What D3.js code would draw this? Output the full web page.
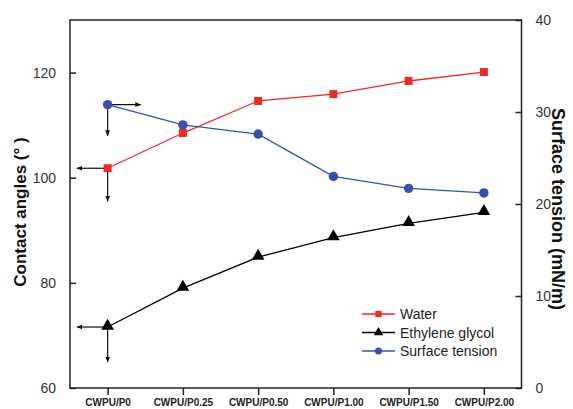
<!DOCTYPE html>
<html><head><meta charset="utf-8">
<script src="https://cdn.jsdelivr.net/npm/d3@7/dist/d3.min.js"></script>
<style>body{margin:0;background:#fff}svg{display:block}</style>
</head><body><svg id="c" width="573" height="409"></svg>
<script>
const categories = ["CWPU/P0","CWPU/P0.25","CWPU/P0.50","CWPU/P1.00","CWPU/P1.50","CWPU/P2.00"];
const water = [101.8, 108.5, 114.6, 115.9, 118.4, 120.1];
const ethyleneGlycol = [71.6, 79.0, 84.9, 88.6, 91.3, 93.4];
const surfaceTension = [30.8, 28.6, 27.6, 23.0, 21.7, 21.2];
const leftTicks = [60, 80, 100, 120];
const rightTicks = [0, 10, 20, 30, 40];

const svg = d3.select("#c");
const L = 70, R = 521.5, T = 20, B = 388;
const x = d3.scalePoint().domain(categories).range([L, R]).padding(0.5);
const yL = d3.scaleLinear().domain([60, 130]).range([B, T]);
const yR = d3.scaleLinear().domain([0, 40]).range([B, T]);

const red = "#ee2a24", blue = "#3b4fae", black = "#000";
const font = "Liberation Sans, Arial, sans-serif";

// frame
svg.append("rect").attr("x", L).attr("y", T).attr("width", R - L).attr("height", B - T)
  .attr("fill", "none").attr("stroke", "#222").attr("stroke-width", 1.5);

// left axis
const gl = svg.append("g").attr("transform", `translate(${L},0)`)
  .call(d3.axisLeft(yL).tickValues(leftTicks).tickSize(-6).tickPadding(14));
gl.select(".domain").remove();
gl.selectAll("line").attr("stroke", "#222").attr("stroke-width", 1.5);
gl.selectAll("text").attr("font-family", font).attr("font-size", 14).attr("fill", "#333");

// right axis
const gr = svg.append("g").attr("transform", `translate(${R},0)`)
  .call(d3.axisRight(yR).tickValues(rightTicks).tickSize(-6).tickPadding(14));
gr.select(".domain").remove();
gr.selectAll("line").attr("stroke", "#222").attr("stroke-width", 1.5);
gr.selectAll("text").attr("font-family", font).attr("font-size", 14).attr("fill", "#333");

// bottom axis
const gb = svg.append("g").attr("transform", `translate(0,${B})`)
  .call(d3.axisBottom(x).tickSize(7).tickPadding(4));
gb.select(".domain").remove();
gb.selectAll("line").attr("stroke", "#222").attr("stroke-width", 1.5);
gb.selectAll("text").attr("font-family", font).attr("font-size", 10).attr("font-weight", "bold").attr("fill", "#222");

// titles
svg.append("text").attr("transform", `translate(26,212) rotate(-90)`)
  .attr("text-anchor", "middle").attr("font-family", font).attr("font-size", 17).attr("font-weight", "bold")
  .attr("fill", "#111").text("Contact angles (° )");
svg.append("text").attr("transform", `translate(552,209) rotate(90)`)
  .attr("text-anchor", "middle").attr("font-family", font).attr("font-size", 18).attr("font-weight", "bold")
  .attr("fill", "#111").text("Surface tension (mN/m)");

// arrow marker
svg.append("defs").append("marker").attr("id", "arr").attr("viewBox", "0 0 10 10")
  .attr("refX", 9).attr("refY", 5).attr("markerWidth", 6).attr("markerHeight", 6)
  .attr("markerUnits", "userSpaceOnUse").attr("orient", "auto")
  .append("path").attr("d", "M0,1 L10,5 L0,9 Z").attr("fill", "#111");

const c0 = categories[0];
function arrow(x1, y1, x2, y2) {
  svg.append("line").attr("x1", x1).attr("y1", y1).attr("x2", x2).attr("y2", y2)
    .attr("stroke", "#111").attr("stroke-width", 1.2).attr("marker-end", "url(#arr)");
}
// surface tension -> right axis
arrow(x(c0), yR(surfaceTension[0]), x(c0) + 33, yR(surfaceTension[0]));
arrow(x(c0), yR(surfaceTension[0]), x(c0), yR(surfaceTension[0]) + 31);
// water -> left axis
arrow(x(c0), yL(water[0]), L + 7, yL(water[0]));
arrow(x(c0), yL(water[0]), x(c0), yL(water[0]) + 33);
// ethylene glycol -> left axis
arrow(x(c0), yL(ethyleneGlycol[0]), L + 7, yL(ethyleneGlycol[0]));
arrow(x(c0), yL(ethyleneGlycol[0]), x(c0), yL(ethyleneGlycol[0]) + 35);

const line = (ys, yS) => d3.line().x((d, i) => x(categories[i])).y(d => yS(d))(ys);

svg.append("path").attr("d", line(water, yL)).attr("fill", "none").attr("stroke", red).attr("stroke-width", 1.3);
svg.append("path").attr("d", line(ethyleneGlycol, yL)).attr("fill", "none").attr("stroke", black).attr("stroke-width", 1.3);
svg.append("path").attr("d", line(surfaceTension, yR)).attr("fill", "none").attr("stroke", blue).attr("stroke-width", 1.3);

const sq = d3.symbol().type(d3.symbolSquare).size(64);
const tri = d3.symbol().type(d3.symbolTriangle).size(70);
const circ = d3.symbol().type(d3.symbolCircle).size(70);

svg.append("g").selectAll("path").data(water).join("path")
  .attr("d", sq).attr("transform", (d, i) => `translate(${x(categories[i])},${yL(d)})`).attr("fill", red);
svg.append("g").selectAll("path").data(ethyleneGlycol).join("path")
  .attr("d", tri).attr("transform", (d, i) => `translate(${x(categories[i])},${yL(d) - 1})`).attr("fill", black);
svg.append("g").selectAll("path").data(surfaceTension).join("path")
  .attr("d", circ).attr("transform", (d, i) => `translate(${x(categories[i])},${yR(d)})`).attr("fill", blue);

// legend
const legend = [
  {name: "Water", color: red, sym: sq},
  {name: "Ethylene glycol", color: black, sym: tri},
  {name: "Surface tension", color: blue, sym: circ}
];
const lg = svg.append("g").attr("transform", "translate(362,314)");
legend.forEach((d, i) => {
  const g = lg.append("g").attr("transform", `translate(0,${i * 18.5})`);
  g.append("line").attr("x1", 0).attr("x2", 33).attr("stroke", d.color).attr("stroke-width", 1.3);
  g.append("path").attr("d", d.sym.size(40)()).attr("transform", "translate(16.5,0)").attr("fill", d.color);
  g.append("text").attr("x", 38).attr("y", 5).attr("font-family", font).attr("font-size", 14)
    .attr("fill", "#222").text(d.name);
});
</script></body></html>
